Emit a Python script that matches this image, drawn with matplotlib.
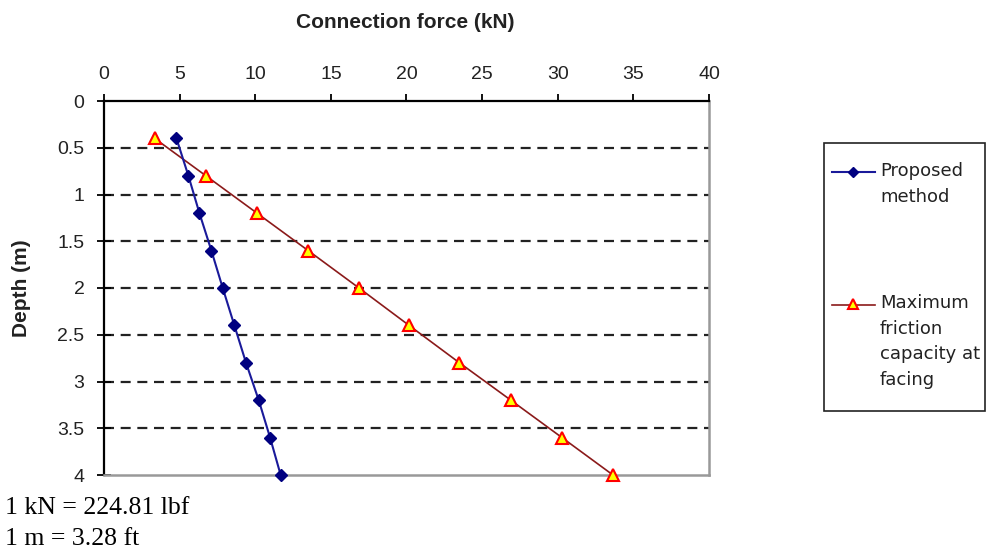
import matplotlib
matplotlib.use("Agg")
import matplotlib.pyplot as plt
from matplotlib.lines import Line2D
from matplotlib.patches import Rectangle
from matplotlib import font_manager as fm

depth = [0.4, 0.8, 1.2, 1.6, 2.0, 2.4, 2.8, 3.2, 3.6, 4.0]
proposed = [4.79, 5.58, 6.31, 7.10, 7.85, 8.62, 9.39, 10.23, 10.98, 11.68]
max_friction = [3.35, 6.74, 10.12, 13.5, 16.86, 20.17, 23.5, 26.9, 30.28, 33.65]
x_ticks = [0, 5, 10, 15, 20, 25, 30, 35, 40]
y_ticks = [0, 0.5, 1, 1.5, 2, 2.5, 3, 3.5, 4]
y_tick_labels = ["0", "0.5", "1", "1.5", "2", "2.5", "3", "3.5", "4"]
label_proposed = "Proposed\nmethod"
label_max = "Maximum\nfriction\ncapacity at\nfacing"

names = {f.name for f in fm.fontManager.ttflist}
narrow = "Liberation Sans Narrow" if "Liberation Sans Narrow" in names else "Liberation Sans"

W, H = 987, 552
fig = plt.figure(figsize=(W / 100, H / 100), dpi=100)
ax = fig.add_axes([104 / W, 1 - 475 / H, (709 - 104) / W, (475 - 101) / H])

ax.set_xlim(0, 40)
ax.set_ylim(4, 0)

for yv in y_ticks[1:-1]:
    ax.axhline(yv, color="#222222", lw=1.6, ls=(0, (4.5, 3)), zorder=1)

ax.plot(max_friction, depth, color="#8B1A1A", lw=1.2, marker="^", ms=8,
        mfc="#FFFF00", mec="#FF0000", mew=1.5, zorder=3, clip_on=False)
ax.plot(proposed, depth, color="#1A1A9A", lw=1.5, marker="D", ms=6,
        mfc="#000080", mec="#000080", zorder=4, clip_on=False)

ax.xaxis.tick_top()
ax.set_xticks(x_ticks)
ax.set_yticks(y_ticks)
ax.set_yticklabels(y_tick_labels)
ax.tick_params(axis="x", direction="out", length=5, width=1.3, pad=8,
               labelsize=14, colors="black")
ax.tick_params(axis="y", direction="inout", length=10, width=1.3, pad=9,
               labelsize=14)
for lab in ax.get_xticklabels() + ax.get_yticklabels():
    lab.set_fontfamily(narrow)
    lab.set_color("#222222")

for s in ["top", "left"]:
    ax.spines[s].set_color("black")
    ax.spines[s].set_linewidth(1.6)
for s in ["right", "bottom"]:
    ax.spines[s].set_color("#999999")
    ax.spines[s].set_linewidth(1.8)

fig.text(405 / W, 1 - 23 / H, "Connection force (kN)", ha="center", va="center",
         fontsize=15, fontweight="bold", family=narrow, color="#222222")
fig.text(22 / W, 1 - 288 / H, "Depth (m)", ha="center", va="center",
         rotation=90, fontsize=15, fontweight="bold", family=narrow, color="#222222")

# legend (manual)
fig.add_artist(Rectangle((824 / W, 1 - 411 / H), (985 - 824) / W, (411 - 143) / H,
                         transform=fig.transFigure, fill=False, ec="#222222", lw=1.2))
fig.add_artist(Line2D([832 / W, 875 / W], [1 - 172 / H, 1 - 172 / H],
                      transform=fig.transFigure, color="#1A1A9A", lw=1.5))
fig.add_artist(Line2D([853 / W], [1 - 172 / H], transform=fig.transFigure,
                      marker="D", ms=5, mfc="#000080", mec="#000080"))
fig.add_artist(Line2D([832 / W, 875 / W], [1 - 305 / H, 1 - 305 / H],
                      transform=fig.transFigure, color="#8B1A1A", lw=1.2))
fig.add_artist(Line2D([853 / W], [1 - 304 / H], transform=fig.transFigure,
                      marker="^", ms=7, mfc="#FFFF00", mec="#FF0000", mew=1.5))
fig.text(880 / W, 1 - 162 / H, label_proposed, ha="left", va="top",
         fontsize=13, family="DejaVu Sans", color="#222222", linespacing=1.55)
fig.text(880 / W, 1 - 294 / H, label_max, ha="left", va="top",
         fontsize=13, family="DejaVu Sans", color="#222222", linespacing=1.55)

fig.text(5 / W, 1 - 508 / H, "1 kN = 224.81 lbf", ha="left", va="center",
         fontsize=18.5, family="Liberation Serif")
fig.text(5 / W, 1 - 539 / H, "1 m = 3.28 ft", ha="left", va="center",
         fontsize=18.5, family="Liberation Serif")

fig.savefig("out.png", dpi=100)
